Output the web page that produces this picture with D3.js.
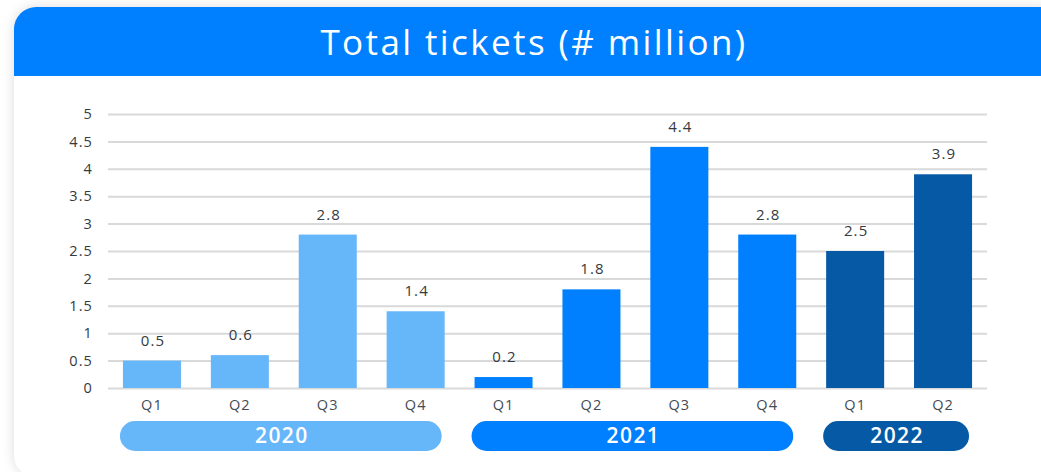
<!DOCTYPE html>
<html>
<head>
<meta charset="utf-8">
<script src="https://cdn.jsdelivr.net/npm/d3@7"></script>
<style>
  html, body { margin: 0; padding: 0; background: #ffffff; }
  svg { display: block; }
  text { font-family: "Open Sans", "DejaVu Sans", sans-serif; }
</style>
</head>
<body>
<svg id="chart" width="1041" height="472"></svg>
<script>
// Quarterly ticket totals, in millions
const quarters = ["Q1", "Q2", "Q3", "Q4", "Q1", "Q2", "Q3", "Q4", "Q1", "Q2"];
const years    = ["2020", "2020", "2020", "2020", "2021", "2021", "2021", "2021", "2022", "2022"];
const tickets  = [0.5, 0.6, 2.8, 1.4, 0.2, 1.8, 4.4, 2.8, 2.5, 3.9];
const yearLabels = ["2020", "2021", "2022"];
const yTicks = [0, 0.5, 1, 1.5, 2, 2.5, 3, 3.5, 4, 4.5, 5];
const title = "Total tickets (# million)";

const yearColor = d3.scaleOrdinal()
  .domain(yearLabels)
  .range(["#66b6fa", "#0080ff", "#0659a5"]);

const svg = d3.select("#chart");

// Card with soft shadow
const defs = svg.append("defs");
const shadow = defs.append("filter").attr("id", "shadow")
  .attr("x", "-10%").attr("y", "-10%").attr("width", "120%").attr("height", "120%");
shadow.append("feDropShadow").attr("dx", 0).attr("dy", 0)
  .attr("stdDeviation", 6).attr("flood-color", "#000").attr("flood-opacity", 0.14);

const card = { x: 14, y: 7, w: 1050, h: 470, r: 22 };
defs.append("clipPath").attr("id", "cardClip")
  .append("rect").attr("x", card.x).attr("y", card.y)
  .attr("width", card.w).attr("height", card.h).attr("rx", card.r);

svg.append("rect").attr("x", card.x).attr("y", card.y)
  .attr("width", card.w).attr("height", card.h).attr("rx", card.r)
  .attr("fill", "#ffffff").attr("filter", "url(#shadow)");

// Header band
svg.append("rect").attr("clip-path", "url(#cardClip)")
  .attr("x", card.x).attr("y", card.y).attr("width", card.w).attr("height", 69)
  .attr("fill", "#0080ff");

svg.append("text")
  .attr("x", 534).attr("y", 55)
  .attr("text-anchor", "middle")
  .attr("fill", "#ffffff")
  .attr("font-size", 35)
  .attr("font-weight", 500)
  .attr("letter-spacing", 2.4)
  .text(title);

// Plot
const plot = { left: 108, right: 987, top: 114, bottom: 388 };
const idx = d3.range(tickets.length);

const x = d3.scaleBand()
  .domain(idx)
  .range([plot.left, plot.right])
  .paddingInner(0.34)
  .paddingOuter(0.17);

const y = d3.scaleLinear().domain([0, 5]).range([plot.bottom, plot.top]);

// Gridlines and y labels
const yAxis = d3.axisLeft(y)
  .tickValues(yTicks)
  .tickSize(-(plot.right - plot.left))
  .tickPadding(15)
  .tickFormat(d3.format("~g"));

const gy = svg.append("g")
  .attr("transform", `translate(${plot.left},0)`)
  .call(yAxis);
gy.select(".domain").remove();
gy.selectAll(".tick line").attr("stroke", "#d9d9d9").attr("stroke-width", 2);
gy.selectAll(".tick text")
  .attr("fill", "#333a40")
  .attr("font-size", 14.5)
  .attr("letter-spacing", 1.1)
  .attr("font-family", "'Open Sans', sans-serif");

// Bars
svg.append("g").selectAll("rect")
  .data(idx)
  .join("rect")
  .attr("x", i => x(i))
  .attr("y", i => y(tickets[i]))
  .attr("width", x.bandwidth())
  .attr("height", i => y(0) - y(tickets[i]))
  .attr("fill", i => yearColor(years[i]));

// Value labels
svg.append("g").selectAll("text")
  .data(idx)
  .join("text")
  .attr("x", i => x(i) + x.bandwidth() / 2 + 1)
  .attr("y", i => y(tickets[i]) - 15)
  .attr("text-anchor", "middle")
  .attr("fill", "#333a40")
  .attr("font-size", 15)
  .attr("letter-spacing", 1.1)
  .text(i => tickets[i]);

// Quarter labels
const xAxis = d3.axisBottom(x)
  .tickSize(0)
  .tickPadding(12)
  .tickFormat(i => quarters[i]);
const gx = svg.append("g")
  .attr("transform", `translate(0,${plot.bottom})`)
  .call(xAxis);
gx.select(".domain").remove();
gx.selectAll(".tick text")
  .attr("fill", "#444c55")
  .attr("font-size", 14.5)
  .attr("letter-spacing", 1.1)
  .attr("font-family", "'Open Sans', sans-serif");

// Year pills
const pills = yearLabels.map(yr => {
  const members = idx.filter(i => years[i] === yr);
  return {
    year: yr,
    x0: x(members[0]) - 3,
    x1: x(members[members.length - 1]) + x.bandwidth() - 3
  };
});

const pg = svg.append("g").selectAll("g").data(pills).join("g");
pg.append("rect")
  .attr("x", d => d.x0)
  .attr("y", 421)
  .attr("width", d => d.x1 - d.x0)
  .attr("height", 30)
  .attr("rx", 15)
  .attr("fill", d => yearColor(d.year));
pg.append("text")
  .attr("x", d => (d.x0 + d.x1) / 2 + 1)
  .attr("y", 443)
  .attr("text-anchor", "middle")
  .attr("fill", "#ffffff")
  .attr("font-size", 21)
  .attr("font-weight", 600)
  .attr("letter-spacing", 1.4)
  .text(d => d.year);
</script>
</body>
</html>
